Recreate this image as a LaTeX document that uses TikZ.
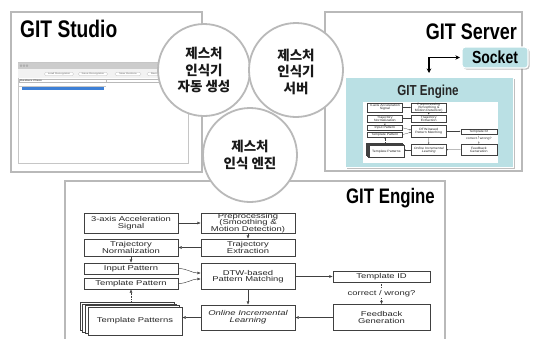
\documentclass[tikz,border=0pt]{standalone}
\usepackage{fontspec}
\usetikzlibrary{calc, positioning, shapes, arrows.meta, shadows}
\newfontfamily\titlefont[FakeStretch=0.8]{Liberation Sans}
\newfontfamily\flowfont[FakeStretch=1.35]{Liberation Sans}
\newfontfamily\kofont{Noto Sans CJK KR}
\definecolor{panelgray}{RGB}{185,185,185}
\definecolor{enginebg}{RGB}{186,224,228}
\definecolor{rowblue}{RGB}{62,128,214}

\tikzset{
  panel/.style={draw=panelgray, line width=1.8pt},
  bubble/.style={circle, draw=panelgray, line width=1.8pt, fill=white, minimum size=92pt, inner sep=0pt, align=center,
    font=\kofont\bfseries\fontsize{13.5}{16.5}\selectfont, text=black!90},
  titletext/.style={inner sep=0pt, text=black},
  winbutton/.style={draw=gray!60, line width=0.25pt, rounded corners=1.5pt, fill=white, inner sep=0pt,
    minimum height=3.6pt, font=\flowfont\fontsize{2.2}{2.2}\selectfont, text=gray!80!black},
  flowbox/.style={draw=black!75, line width=0.45pt, fill=white, inner sep=0.8pt, align=center,
    font=\flowfont\fontsize{7}{6.6}\selectfont, text=black!85},
  flowlabel/.style={fill=white, inner sep=0.6pt, font=\flowfont\fontsize{7}{7}\selectfont, text=black!85},
  flowline/.style={draw=black!75, line width=0.45pt, -{Latex[length=3.5pt,width=3pt]}},
  flowdash/.style={flowline, dash pattern=on 1.2pt off 1pt},
  % recognition engine flow, origin at the top left of the first box
  gitflow/.pic={
    \node[flowbox, minimum width=94pt, minimum height=20pt] (-sig) at (53,10) {3-axis Acceleration\\Signal};
    \node[flowbox, minimum width=94pt, minimum height=20pt, inner sep=0.3pt] (-pre) at (170,10) {Preprocessing\\(Smoothing \&\\Motion Detection)};
    \node[flowbox, minimum width=94pt, minimum height=17pt] (-norm) at (53,34.5) {Trajectory\\Normalization};
    \node[flowbox, minimum width=94pt, minimum height=17pt] (-ext) at (170,34.5) {Trajectory\\Extraction};
    \node[flowbox, minimum width=94pt, minimum height=11pt] (-inp) at (53,55.5) {Input Pattern};
    \node[flowbox, minimum width=94pt, minimum height=11pt] (-tpl) at (53,70.5) {Template Pattern};
    \node[flowbox, minimum width=94pt, minimum height=26pt] (-dtw) at (170,63.5) {DTW-based\\Pattern Matching};
    \foreach \k in {3,2,1}
      \node[flowbox, minimum width=94pt, minimum height=28pt] (-stack\k) at ({57-2.7*\k},{108-1.6*\k}) {};
    \node[flowbox, minimum width=94pt, minimum height=28pt] (-tps) at (57,108) {Template Patterns};
    \node[flowbox, minimum width=94pt, minimum height=25pt, font=\flowfont\itshape\fontsize{7}{6.8}\selectfont] (-onl) at (170,104.5) {Online Incremental\\Learning};
    \node[flowbox, minimum width=97pt, minimum height=11pt] (-tid) at (303.5,63.5) {Template ID};
    \node[flowbox, minimum width=97pt, minimum height=26pt] (-fb) at (303.5,104.5) {Feedback\\Generation};
    \draw[flowline] (-sig) -- (-pre);
    \draw[flowline] (-pre) -- (-ext);
    \draw[flowline] (-ext) -- (-norm);
    \draw[flowline] (-norm) -- (-inp);
    \draw[flowline] (-inp.east) to[out=0,in=180] ($(-dtw.west)+(0,-3.5)$);
    \draw[flowline] (-tpl.east) to[out=0,in=180] ($(-dtw.west)+(0,2.5)$);
    \draw[flowdash] (-stack3.north -| -tpl.south) -- (-tpl.south);
    \draw[flowline] (-dtw) -- (-onl);
    \draw[flowline] (-onl.west) -- (-onl.west -| -tps.east);
    \draw[flowline] (-dtw) -- (-tid);
    \draw[flowdash] (-tid) -- (-fb);
    \node[flowlabel] (-ask) at ($(-tid.south)!0.5!(-fb.north)$) {correct / wrong?};
    \draw[flowline] (-fb) -- (-onl);
  }
}

\begin{document}
\begin{tikzpicture}[x=1pt, y=-1pt]
\useasboundingbox (0,0) rectangle (535,338);
\clip (0,0) rectangle (535,338);
\fill[white] (0,0) rectangle (535,338);

% studio panel with its window
\draw[panel] (11,12) rectangle (202,172);
\draw[draw=gray!45, line width=0.8pt] (18,62) rectangle (188,163);
\fill[gray!40] (18,62.5) rectangle (188,69);
\foreach \x in {21,24,27} \draw[gray!75, line width=0.3pt] (\x,65.7) circle (1pt);
\fill[gray!10] (18,69) rectangle (188,77.5);
\node[winbutton, minimum width=29pt] (load) at (59,74) {Load Recognizer};
\node[winbutton, minimum width=29pt] (save) at (93,74) {Save Recognizer};
\node[winbutton, minimum width=26pt] (newg) at (128,74) {New Gesture};
\node[winbutton, minimum width=30pt] (remove) at (162,74) {Remove Gesture};
\draw[gray!55, line width=0.3pt] (19,79) rectangle (106,82.5);
\draw[gray!55, line width=0.3pt] (106,79) rectangle (188,82.5);
\node[anchor=west, inner sep=0.5pt, font=\flowfont\bfseries\fontsize{2.4}{2.4}\selectfont, text=gray!70!black] (gclass) at (19.5,80.8) {Gesture Class};
\draw[gray!45, line width=0.3pt] (19,86) -- (106,86);
\fill[rowblue] (22,87) rectangle (104,89.5);
\node[titletext, anchor=base west, font=\titlefont\bfseries\fontsize{24}{24}\selectfont] (studio) at (20,37) {GIT Studio};

% server panel
\draw[panel] (325,12) rectangle (522,171);
\node[titletext, anchor=base east, font=\titlefont\bfseries\fontsize{22.5}{22.5}\selectfont] (server) at (517,39.5) {GIT Server};
\node[fill=enginebg, draw=white, line width=1pt, minimum width=168pt, minimum height=90pt,
  drop shadow={shadow xshift=1.5pt, shadow yshift=-1.5pt, fill=black!50, opacity=0.5}] (engine) at (429,122) {};
\node[titletext, anchor=base, font=\titlefont\bfseries\fontsize{14.5}{14.5}\selectfont, text=black!85] (enginetitle) at (428,95.5) {GIT Engine};
\node[fill=white, minimum width=135pt, minimum height=61pt, inner sep=0pt] (canvas) at (430.5,132.5) {};
\pic[xscale=0.375, yscale=0.447, transform shape,
  flowbox/.append style={line width=0.25pt},
  flowline/.append style={line width=0.25pt, -{Latex[length=1.4pt,width=1.2pt]}}] (mini) at (365,103) {gitflow};
\node[fill=enginebg, draw=white, line width=1.2pt, rounded corners=3pt, minimum width=66pt, minimum height=21pt,
  drop shadow={shadow xshift=1.5pt, shadow yshift=-1.5pt, fill=black!50, opacity=0.5},
  font=\titlefont\bfseries\fontsize{17.5}{17.5}\selectfont] (socket) at (495,57.5) {Socket};
\draw[line width=1.3pt, {Stealth[length=4.5pt,width=4.5pt]}-{Stealth[length=4.5pt,width=4.5pt]}, shorten <=3.5pt, shorten >=1.5pt]
  (engine.north) |- (socket.west);

% engine panel
\draw[panel] (65,181) rectangle (445,350);
\node[titletext, anchor=base east, font=\titlefont\bfseries\fontsize{21}{21}\selectfont] (enginehead) at (435,203) {GIT Engine};
\pic (big) at (78,213) {gitflow};

% the three bubbles on top
\node[bubble] (gen) at (204,70) {제스처\\인식기\\자동 생성};
\node[bubble, minimum size=94pt] (srv) at (296,70) {\\[-2pt]제스처\\인식기\\서버};
\node[bubble, minimum size=94pt] (eng) at (250,155) {제스처\\인식 엔진};
\end{tikzpicture}
\end{document}
